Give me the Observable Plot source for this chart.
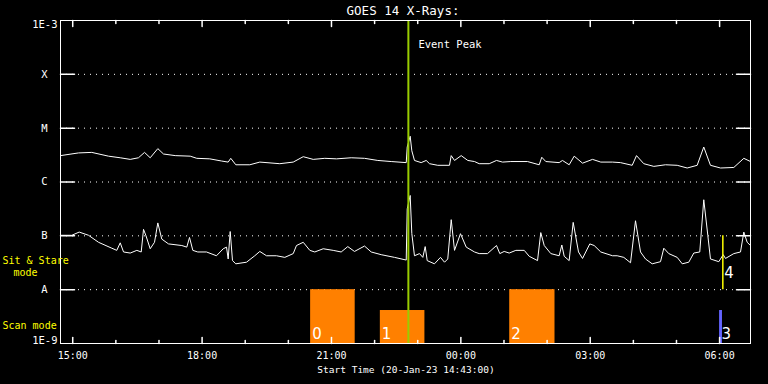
<!DOCTYPE html>
<html><head><meta charset="utf-8">
<script src="https://cdn.jsdelivr.net/npm/d3@7"></script>
<script src="https://cdn.jsdelivr.net/npm/@observablehq/plot@0.6"></script>
<style>
html,body{margin:0;padding:0;background:#000;}
#chart svg{display:block;}
</style></head><body><div id="chart"></div>
<script>
// ---- data ----
const startISO = "2023-01-20T14:43:00Z";
const endISO = "2023-01-21T06:43:00Z";

// GOES long channel (1-8 A): minutes after start, log10 flux (W/m^2)
const longMinutes = [
  0, 25, 43.5, 66.8, 83.1, 97, 108.5, 116.9, 124.8, 135.4,
  143.3, 159.6, 180.5, 189.6, 207.7, 224, 233.3, 236.9, 243.9, 263.4,
  277.3, 305.1, 323.8, 337.7, 351.6, 367.7, 384, 404.5, 423, 441.5,
  460.1, 481, 482.4, 486.5, 488.8, 492.5, 501.8, 508.8, 513.4, 524.9,
  541.2, 543.6, 548.2, 557.5, 566.7, 576, 582.5, 596.5, 606.6, 615,
  626.5, 649.7, 666, 669.6, 675.2, 693.8, 698.4, 707.7, 714.7, 726.3,
  740.2, 751.7, 768, 779.1, 795.4, 801.4, 811.5, 825.5, 841.7, 858,
  871.9, 885.8, 895, 904.3, 918.3, 936.8, 950.7, 960
];
const longLog10 = [
  -5.51, -5.46, -5.45, -5.52, -5.55, -5.58, -5.55, -5.45, -5.55, -5.38,
  -5.48, -5.51, -5.52, -5.56, -5.57, -5.61, -5.63, -5.56, -5.68, -5.68,
  -5.63, -5.66, -5.63, -5.53, -5.58, -5.56, -5.57, -5.55, -5.56, -5.60,
  -5.62, -5.64, -5.35, -5.15, -5.42, -5.60, -5.64, -5.60, -5.66, -5.69,
  -5.69, -5.51, -5.60, -5.51, -5.60, -5.62, -5.66, -5.66, -5.60, -5.63,
  -5.62, -5.62, -5.68, -5.54, -5.62, -5.64, -5.60, -5.68, -5.52, -5.65,
  -5.58, -5.63, -5.63, -5.64, -5.69, -5.51, -5.66, -5.71, -5.68, -5.69,
  -5.74, -5.69, -5.35, -5.69, -5.74, -5.73, -5.56, -5.62
];

// GOES short channel (0.5-4 A)
const shortMinutes = [
  0, 15.7, 26, 39, 52.9, 71.4, 78.3, 83.1, 87.7, 97,
  106.2, 112.3, 115.5, 118.7, 124.8, 130.8, 135.4, 140.9, 150.3, 168.8,
  175.7, 179.5, 184.1, 191, 203.1, 217, 226.4, 231, 233.3, 236.1,
  239.3, 243.9, 258.8, 270.3, 277.3, 286.6, 300.5, 312.1, 323.8, 328.3,
  337.7, 346.9, 353.8, 365.5, 379.4, 390.5, 399.7, 409, 423, 432.3,
  446.2, 464.7, 481, 482.4, 486.5, 488.8, 492.5, 499.5, 504.1, 507.4,
  510.2, 520.3, 528.7, 534.3, 538.8, 543.6, 548.2, 556.5, 564.5, 576,
  582.5, 594.1, 606.6, 611.2, 617.3, 624.3, 633.5, 645.2, 652.1, 663.7,
  668.2, 673, 682.2, 693.8, 697.5, 700.8, 707.7, 713.3, 720.7, 726.3,
  736.4, 742.5, 751.7, 768, 774.5, 783.7, 793.1, 800, 807, 813.9,
  823.2, 834.8, 839.4, 846.3, 858, 865, 874.1, 881.1, 889.4, 895,
  900.6, 904.3, 915.9, 922, 925.2, 936.8, 946.1, 950.7, 955.4, 960
];
const shortLog10 = [
  -6.99, -6.99, -6.93, -6.99, -7.12, -7.23, -7.27, -7.13, -7.30, -7.32,
  -7.27, -7.30, -6.88, -6.99, -7.24, -7.12, -6.76, -7.06, -7.15, -7.18,
  -7.21, -7.03, -7.27, -7.30, -7.30, -7.37, -7.24, -7.21, -7.43, -6.92,
  -7.46, -7.52, -7.49, -7.37, -7.29, -7.37, -7.37, -7.40, -7.33, -7.18,
  -7.12, -7.27, -7.30, -7.24, -7.27, -7.30, -7.20, -7.29, -7.19, -7.30,
  -7.35, -7.40, -7.45, -6.50, -6.25, -6.96, -7.37, -7.33, -7.40, -7.20,
  -7.46, -7.52, -7.40, -7.49, -7.43, -6.70, -7.27, -6.96, -7.21, -7.30,
  -7.33, -7.33, -7.18, -7.33, -7.29, -7.32, -7.27, -7.27, -7.38, -7.46,
  -6.94, -7.18, -7.33, -7.37, -7.17, -7.38, -7.46, -6.75, -7.30, -7.42,
  -7.15, -7.18, -7.30, -7.37, -7.37, -7.40, -7.50, -6.72, -7.30, -7.43,
  -7.52, -7.48, -7.23, -7.33, -7.40, -7.52, -7.49, -7.32, -7.30, -6.33,
  -6.99, -7.43, -7.48, -7.35, -7.42, -7.33, -7.30, -6.93, -7.12, -7.18
];

// flare class levels
const levelLetters = ["A", "B", "C", "M", "X"];
const levelFlux = [1e-8, 1e-7, 1e-6, 1e-5, 1e-4];
const edgeLabels = ["1E-9", "1E-3"];
const edgeFlux = [1e-9, 1e-3];

// scan-mode observations
const scanIds = ["0", "1", "2"];
const scanStart = ["2023-01-20T20:31:00Z", "2023-01-20T22:08:00Z", "2023-01-21T01:08:00Z"];
const scanEnd = ["2023-01-20T21:33:00Z", "2023-01-20T23:10:00Z", "2023-01-21T02:11:00Z"];
const scanTop = [1e-8, 4.1e-9, 1e-8];
const scanFloor = 1e-9;

const blueIds = ["3"];
const blueStart = ["2023-01-21T06:00:00Z"];
const blueEnd = ["2023-01-21T06:04:00Z"];
const blueTop = [4.1e-9];

// sit & stare observation
const sitIds = ["4"];
const sitTime = ["2023-01-21T06:04:30Z"];
const sitLow = [1e-8];
const sitHigh = [1e-7];

const eventPeakTime = ["2023-01-20T22:47:00Z"];

const titleText = "GOES 14 X-Rays:";
const xLabelText = "Start Time (20-Jan-23 14:43:00)";

// ---- build tables ----
const t0 = new Date(startISO), t1 = new Date(endISO);
const toDate = m => new Date(t0.getTime() + m * 60000);
const longData = longMinutes.map((m, i) => ({t: toDate(m), flux: 10 ** longLog10[i]}));
const shortData = shortMinutes.map((m, i) => ({t: toDate(m), flux: 10 ** shortLog10[i]}));
const scans = scanIds.map((id, i) => ({id, start: new Date(scanStart[i]), end: new Date(scanEnd[i]), lo: scanFloor, hi: scanTop[i]}));
const blues = blueIds.map((id, i) => ({id, start: new Date(blueStart[i]), end: new Date(blueEnd[i]), lo: scanFloor, hi: blueTop[i]}));
const sits = sitIds.map((id, i) => ({id, t: new Date(sitTime[i]), lo: sitLow[i], hi: sitHigh[i]}));
const peaks = eventPeakTime.map(d => new Date(d));
const levels = levelFlux.map((f, i) => ({f, label: levelLetters[i]}));
const edges = edgeFlux.map((f, i) => ({f, label: edgeLabels[i]}));

const hours = d3.utcHour.range(t0, t1);
const majorHours = hours.filter(d => d.getUTCHours() % 3 === 0);
const minorHours = hours.filter(d => d.getUTCHours() % 3 !== 0);

const tickShape = {draw(ctx, l) { ctx.moveTo(0, 0); ctx.lineTo(0, -l); }};
const mono = "DejaVu Sans Mono";
const yellow = "#ffff00";
const idFont = {textAnchor: "start", lineAnchor: "bottom", fontSize: 15, fontFamily: "DejaVu Sans", fill: "white"};

const chart = Plot.plot({
  width: 768, height: 384,
  marginLeft: 60, marginRight: 18, marginTop: 20, marginBottom: 41,
  style: {background: "black", color: "white", fontFamily: mono, overflow: "visible"},
  x: {type: "utc", domain: [t0, t1], axis: null},
  y: {type: "log", domain: [1e-9, 1e-3], axis: null},
  marks: [
    Plot.ruleY(levelFlux, {stroke: "white", strokeDasharray: "1,5"}),
    Plot.rect(scans, {x1: "start", x2: "end", y1: "lo", y2: "hi", fill: "#ff8000"}),
    Plot.line(longData, {x: "t", y: "flux", stroke: "white", strokeWidth: 1}),
    Plot.line(shortData, {x: "t", y: "flux", stroke: "white", strokeWidth: 1}),
    Plot.ruleX(peaks, {stroke: "#99cc00", strokeWidth: 2}),
    Plot.rect(blues, {x1: "start", x2: "end", y1: "lo", y2: "hi", fill: "#6464ff"}),
    Plot.ruleX(sits, {x: "t", y1: "lo", y2: "hi", stroke: yellow, strokeWidth: 1.5}),
    Plot.frame({stroke: "white"}),
    // x ticks (inward)
    Plot.vector(majorHours, {x: d => d, frameAnchor: "bottom", length: 6, rotate: 0, anchor: "start", shape: tickShape, stroke: "white"}),
    Plot.vector(minorHours, {x: d => d, frameAnchor: "bottom", length: 3, rotate: 0, anchor: "start", shape: tickShape, stroke: "white"}),
    Plot.vector(majorHours, {x: d => d, frameAnchor: "top", length: 6, rotate: 180, anchor: "start", shape: tickShape, stroke: "white"}),
    Plot.vector(minorHours, {x: d => d, frameAnchor: "top", length: 3, rotate: 180, anchor: "start", shape: tickShape, stroke: "white"}),
    // y ticks
    Plot.vector(levelFlux, {y: d => d, frameAnchor: "left", length: 14, rotate: 90, anchor: "start", shape: tickShape, stroke: "white"}),
    Plot.vector(levelFlux, {y: d => d, frameAnchor: "right", length: 14, rotate: 270, anchor: "start", shape: tickShape, stroke: "white"}),
    // tick labels
    Plot.text(majorHours, {x: d => d, text: d => d3.utcFormat("%H:%M")(d), frameAnchor: "bottom", dy: 15.5, lineAnchor: "bottom", fontSize: 10, fill: "white"}),
    Plot.text(levels, {y: "f", text: "label", frameAnchor: "left", dx: -16, textAnchor: "middle", lineAnchor: "middle", fontSize: 10.5, fill: "white"}),
    Plot.text(edges.slice(1), {y: "f", text: "label", frameAnchor: "left", dx: -3, textAnchor: "end", lineAnchor: "top", fontSize: 10.5, fill: "white"}),
    Plot.text(edges.slice(0, 1), {y: "f", text: "label", frameAnchor: "left", dx: -3, textAnchor: "end", lineAnchor: "bottom", fontSize: 10.5, fill: "white"}),
    // titles
    Plot.text([titleText], {frameAnchor: "top", dx: -2.5, dy: -6, lineAnchor: "bottom", fontSize: 12.5, fill: "white"}),
    Plot.text([xLabelText], {frameAnchor: "bottom", dx: 0.5, dy: 29, lineAnchor: "bottom", fontSize: 9.5, fill: "white"}),
    // mode labels
    Plot.text(["Sit & Stare"], {frameAnchor: "bottom-left", dx: -58, dy: -80, textAnchor: "start", lineAnchor: "bottom", fontSize: 10, fill: yellow}),
    Plot.text(["mode"], {frameAnchor: "bottom-left", dx: -47, dy: -68, textAnchor: "start", lineAnchor: "bottom", fontSize: 10, fill: yellow}),
    Plot.text(["Scan mode"], {frameAnchor: "bottom-left", dx: -58, dy: -15, textAnchor: "start", lineAnchor: "bottom", fontSize: 10, fill: yellow}),
    // event peak label
    Plot.text(peaks, {x: d => d, text: () => "Event Peak", frameAnchor: "top", dx: 10, dy: 27, textAnchor: "start", lineAnchor: "bottom", fontSize: 10.5, fill: "white"}),
    // observation ids
    Plot.text(scans, {x: "start", y: "lo", text: "id", dx: 1.5, dy: -4.5, ...idFont}),
    Plot.text(blues, {x: "start", y: "lo", text: "id", dx: 2, dy: -4.5, ...idFont}),
    Plot.text(sits, {x: "t", y: "lo", text: "id", dx: 1.5, dy: -11.5, ...idFont})
  ]
});
document.getElementById("chart").appendChild(chart);
</script>
</body></html>
